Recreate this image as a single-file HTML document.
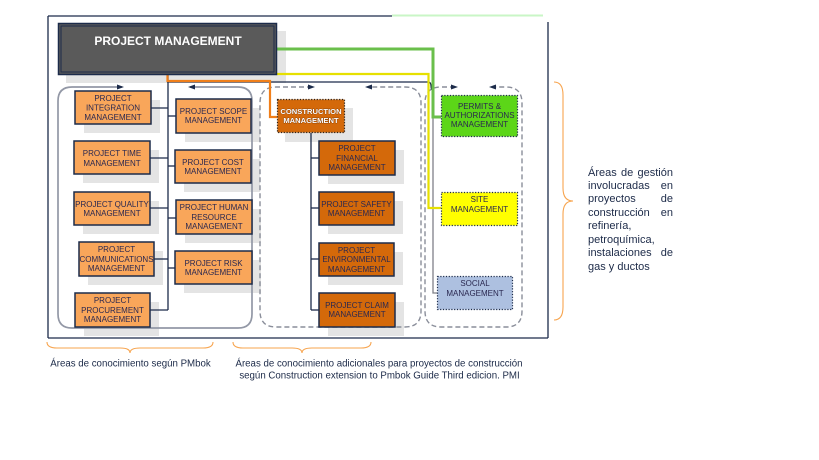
<!DOCTYPE html>
<html>
<head>
<meta charset="utf-8">
<style>
html,body{margin:0;padding:0;background:#fff;}
body{width:819px;height:460px;position:relative;overflow:hidden;font-family:"Liberation Sans",Arial,sans-serif;}
svg{position:absolute;left:0;top:0;}
.side{position:absolute;left:588px;top:166.5px;width:85px;font-size:11px;line-height:13.43px;color:#1c2a48;text-align:justify;}
</style>
</head>
<body>
<svg width="819" height="460" viewBox="0 0 819 460" xmlns="http://www.w3.org/2000/svg" font-family="Liberation Sans, Arial, sans-serif">
  <!-- outer frame -->
  <g stroke="#1c2b4a" stroke-width="1.3" fill="none">
    <line x1="48" y1="16" x2="392" y2="16"/>
    <line x1="48" y1="16" x2="48" y2="338"/>
    <line x1="48" y1="338" x2="548" y2="338"/>
    <line x1="548" y1="22" x2="548" y2="338"/>
  </g>
  <line x1="392" y1="15.5" x2="543" y2="15.5" stroke="#c9f6c6" stroke-width="2"/>

  <!-- shadows -->
  <g fill="#e4e4e4">
    <rect x="66" y="31" width="220" height="52"/>
    <rect x="84" y="100" width="76" height="33"/>
    <rect x="83" y="150" width="76" height="33"/>
    <rect x="83" y="201" width="76" height="33"/>
    <rect x="88" y="251" width="75" height="34"/>
    <rect x="84" y="302" width="75" height="34"/>
    <rect x="185" y="108" width="75" height="34"/>
    <rect x="184" y="159" width="76" height="33"/>
    <rect x="185" y="209" width="76" height="34"/>
    <rect x="184" y="260" width="77" height="33"/>
    <rect x="285" y="108" width="68" height="34"/>
    <rect x="328" y="150" width="76" height="34"/>
    <rect x="328" y="201" width="75" height="33"/>
    <rect x="328" y="252" width="75" height="33"/>
    <rect x="328" y="302" width="76" height="34"/>
  </g>

  <!-- left panel (solid gray rounded) -->
  <path d="M122,87 H72 Q58,87 58,101 V314 Q58,328 72,328 H238 Q252,328 252,314 V101 Q252,87 238,87 H190" fill="none" stroke="#9398a6" stroke-width="1.7"/>
  <!-- middle panel (dashed) -->
  <path d="M312,87 H276 Q260,87 260,103 V311 Q260,327 276,327 H405 Q421,327 421,311 V103 Q421,87 405,87 H368" fill="none" stroke="#8a8e9a" stroke-width="1.4" stroke-dasharray="5,3"/>
  <!-- right panel (dashed) -->
  <path d="M455,87 H441 Q425,87 425,103 V311 Q425,327 441,327 H506 Q522,327 522,311 V103 Q522,87 506,87 H492" fill="none" stroke="#8a8e9a" stroke-width="1.4" stroke-dasharray="5,3"/>

  <!-- arrowheads -->
  <g fill="#1c2b4a">
    <polygon points="117,84.5 124,87 117,89.5"/>
    <polygon points="195,84.5 188,87 195,89.5"/>
    <polygon points="308,84.5 315,87 308,89.5"/>
    <polygon points="372,84.5 365,87 372,89.5"/>
    <polygon points="451,84.5 458,87 451,89.5"/>
    <polygon points="496,84.5 489,87 496,89.5"/>
  </g>

  <!-- connectors from PM -->
  <path d="M167,82 H428 Q431,82 431,86 Q431,90 433,90" fill="none" stroke="#1c2b4a" stroke-width="1.2"/>
  <path d="M433,90 V293 H437" fill="none" stroke="#7f8088" stroke-width="1.3"/>
  <path d="M277,74 H428.5 V208 H441" fill="none" stroke="#e6e000" stroke-width="2.2"/>
  <path d="M277,49 H433 V117 H441" fill="none" stroke="#6abf4b" stroke-width="3"/>

  <!-- left trunk -->
  <g stroke="#1c2b4a" stroke-width="1.3" fill="none">
    <line x1="168" y1="75" x2="168" y2="310"/>
    <line x1="151" y1="108" x2="168" y2="108"/>
    <line x1="168" y1="116" x2="176" y2="116"/>
    <line x1="150" y1="158" x2="168" y2="158"/>
    <line x1="168" y1="166" x2="175" y2="166"/>
    <line x1="150" y1="208" x2="168" y2="208"/>
    <line x1="168" y1="218" x2="176" y2="218"/>
    <line x1="154" y1="259" x2="168" y2="259"/>
    <line x1="168" y1="268" x2="175" y2="268"/>
    <line x1="150" y1="310" x2="168" y2="310"/>
    <!-- middle trunk -->
    <line x1="311" y1="133" x2="311" y2="310"/>
    <line x1="311" y1="158" x2="319" y2="158"/>
    <line x1="311" y1="208" x2="319" y2="208"/>
    <line x1="311" y1="259" x2="319" y2="259"/>
    <line x1="311" y1="310" x2="319" y2="310"/>
  </g>
  <!-- orange connector -->
  <path d="M167.5,75 V81 H270 V117 H277" fill="none" stroke="#f07f1a" stroke-width="2.2"/>

  <!-- PM box -->
  <rect x="58.5" y="23.5" width="218" height="51" fill="#5a5a5a" stroke="#1c2b4a" stroke-width="1.5"/>
  <rect x="61" y="26" width="213" height="46" fill="none" stroke="#1c2b4a" stroke-width="1"/>
  <text x="168" y="45" text-anchor="middle" font-size="12" font-weight="bold" fill="#ffffff">PROJECT MANAGEMENT</text>

  <!-- left boxes -->
  <g fill="#f9a65a" stroke="#1c2b4a" stroke-width="1.5">
    <rect x="75" y="91" width="76" height="33"/>
    <rect x="74" y="141" width="76" height="33"/>
    <rect x="74" y="192" width="76" height="33"/>
    <rect x="79" y="242" width="75" height="34"/>
    <rect x="75" y="293" width="75" height="34"/>
    <rect x="176" y="99" width="75" height="34"/>
    <rect x="175" y="150" width="76" height="33"/>
    <rect x="176" y="200" width="76" height="34"/>
    <rect x="175" y="251" width="77" height="33"/>
  </g>
  <!-- middle boxes -->
  <g fill="#d4690a" stroke="#1c2b4a" stroke-width="1.5">
    <rect x="319" y="141" width="76" height="34"/>
    <rect x="319" y="192" width="75" height="33"/>
    <rect x="319" y="243" width="75" height="33"/>
    <rect x="319" y="293" width="76" height="34"/>
  </g>
  <rect x="277.5" y="99.5" width="67" height="33" fill="#d4690a" stroke="#2a1e14" stroke-width="1.2" stroke-dasharray="1.2,1.6"/>
  <!-- right boxes -->
  <rect x="441.5" y="95.5" width="76" height="41" fill="#5cd618" stroke="#1c2b4a" stroke-width="1.2" stroke-dasharray="1.2,1.6"/>
  <rect x="441.5" y="192.5" width="76" height="33" fill="#ffff00" stroke="#1c2b4a" stroke-width="1.2" stroke-dasharray="1.2,1.6"/>
  <rect x="437.5" y="276.5" width="75" height="33" fill="#adc0e0" stroke="#1c2b4a" stroke-width="1.2" stroke-dasharray="1.2,1.6"/>

  <!-- box labels -->
  <g font-size="8" fill="#2a2850" text-anchor="middle">
    <text x="113" y="101">PROJECT</text><text x="113" y="110.5">INTEGRATION</text><text x="113" y="120">MANAGEMENT</text>
    <text x="112" y="156">PROJECT TIME</text><text x="112" y="166">MANAGEMENT</text>
    <text x="112" y="207">PROJECT QUALITY</text><text x="112" y="216">MANAGEMENT</text>
    <text x="116.5" y="252">PROJECT</text><text x="116.5" y="262">COMMUNICATIONS</text><text x="116.5" y="271">MANAGEMENT</text>
    <text x="112.5" y="303">PROJECT</text><text x="112.5" y="313">PROCUREMENT</text><text x="112.5" y="322">MANAGEMENT</text>
    <text x="213.5" y="114">PROJECT SCOPE</text><text x="213.5" y="123">MANAGEMENT</text>
    <text x="213" y="165">PROJECT COST</text><text x="213" y="174">MANAGEMENT</text>
    <text x="214" y="210">PROJECT HUMAN</text><text x="214" y="220">RESOURCE</text><text x="214" y="229">MANAGEMENT</text>
    <text x="213.5" y="266">PROJECT RISK</text><text x="213.5" y="275">MANAGEMENT</text>
    <text x="357" y="151">PROJECT</text><text x="357" y="161">FINANCIAL</text><text x="357" y="170">MANAGEMENT</text>
    <text x="356.5" y="207">PROJECT SAFETY</text><text x="356.5" y="216">MANAGEMENT</text>
    <text x="356.5" y="253">PROJECT</text><text x="356.5" y="262">ENVIRONMENTAL</text><text x="356.5" y="272">MANAGEMENT</text>
    <text x="357" y="308">PROJECT CLAIM</text><text x="357" y="317">MANAGEMENT</text>
    <text x="479.5" y="109">PERMITS &amp;</text><text x="479.5" y="118">AUTHORIZATIONS</text><text x="479.5" y="127">MANAGEMENT</text>
    <text x="479.5" y="202">SITE</text><text x="479.5" y="212">MANAGEMENT</text>
    <text x="475" y="286">SOCIAL</text><text x="475" y="296">MANAGEMENT</text>
  </g>
  <g font-size="7.6" font-weight="bold" fill="#ffffff" text-anchor="middle" stroke="#5a2a08" stroke-width="0.5" paint-order="stroke">
    <text x="311" y="114">CONSTRUCTION</text><text x="311" y="123">MANAGEMENT</text>
  </g>

  <!-- braces -->
  <g fill="none" stroke="#f7a44e" stroke-width="1.1">
    <path d="M554,82 Q563,82 563,95 V188 Q563,201 573,201 Q563,201 563,214 V307 Q563,320 554,320"/>
    <path d="M47,342 Q47,348 57,348 H120 Q130,348 130,353 Q130,348 140,348 H203 Q213,348 213,342"/>
    <path d="M233,342 Q233,348 243,348 H292 Q302,348 302,353 Q302,348 312,348 H361 Q371,348 371,342"/>
  </g>

  <!-- bottom captions -->
  <g font-size="9.7" fill="#1c2a48" text-anchor="middle">
    <text x="130.5" y="366.5">Áreas de conocimiento según PMbok</text>
    <text x="379" y="366.5">Áreas de conocimiento adicionales para proyectos de construcción</text>
    <text x="379.5" y="378.5">según Construction extension to Pmbok Guide Third edicion. PMI</text>
  </g>
</svg>
<div class="side">Áreas de gestión involucradas en proyectos de construcción en refinería, petroquímica, instalaciones de gas y ductos</div>
</body>
</html>
